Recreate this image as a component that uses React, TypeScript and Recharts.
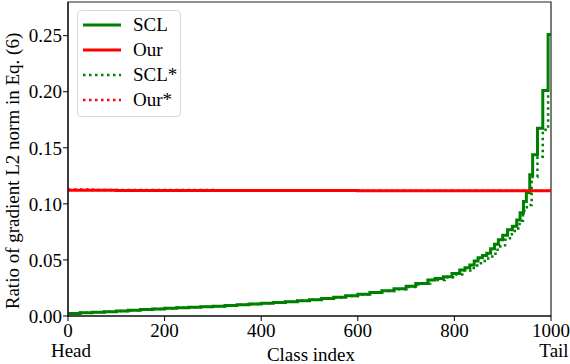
import React from 'react';
import { LineChart, Line, XAxis, YAxis, ReferenceArea } from 'recharts';

// class index breakpoints and ratio values
const sclIdx = [0, 25, 50, 75, 100, 125, 150, 175, 200, 225, 250, 275, 300, 325, 350, 375, 400, 425, 450, 475, 500, 525, 550, 575, 600, 625, 650, 675, 700, 720, 745, 760, 777, 795, 811, 822, 832, 841, 849, 858, 867, 875, 883, 891, 900, 910, 920, 929, 936, 943, 949, 956, 962, 972, 983, 994, 1000];
const sclVal = [0.0022, 0.0028, 0.0034, 0.0039, 0.0045, 0.0051, 0.0057, 0.0062, 0.0068, 0.0073, 0.0078, 0.0083, 0.0088, 0.0094, 0.01, 0.0106, 0.0113, 0.012, 0.0128, 0.0136, 0.0145, 0.0156, 0.0168, 0.018, 0.0195, 0.021, 0.0225, 0.0242, 0.0265, 0.029, 0.032, 0.0335, 0.035, 0.038, 0.041, 0.043, 0.0455, 0.049, 0.052, 0.054, 0.056, 0.06, 0.064, 0.068, 0.072, 0.077, 0.08, 0.0857, 0.092, 0.102, 0.11, 0.126, 0.1437, 0.1675, 0.201, 0.251, 0.251];

const sclStarIdx = [0, 25, 50, 75, 100, 125, 150, 175, 200, 225, 250, 275, 300, 325, 350, 375, 400, 425, 450, 475, 500, 525, 550, 575, 600, 625, 650, 675, 700, 725, 750, 780, 800, 820, 840, 855, 870, 885, 895, 905, 915, 925, 935, 942, 950, 960, 972, 983, 994, 1000];
const sclStarVal = [0.0022, 0.0028, 0.0034, 0.0039, 0.0045, 0.0051, 0.0057, 0.0062, 0.0068, 0.0073, 0.0078, 0.0083, 0.0088, 0.0094, 0.01, 0.0106, 0.0113, 0.012, 0.0128, 0.0136, 0.0145, 0.0155, 0.0166, 0.0178, 0.0192, 0.0207, 0.0222, 0.0238, 0.0258, 0.029, 0.032, 0.0345, 0.037, 0.0405, 0.045, 0.049, 0.053, 0.059, 0.063, 0.068, 0.073, 0.078, 0.085, 0.094, 0.099, 0.124, 0.142, 0.166, 0.198, 0.198];

const ourIdx = [0, 100, 300, 600, 1000];
const ourVal = [0.1122, 0.112, 0.1118, 0.1116, 0.1115];

const ourStarIdx = [0, 50, 300, 600, 1000];
const ourStarVal = [0.1128, 0.1123, 0.1119, 0.1117, 0.1116];

const xTicks = [0, 200, 400, 600, 800, 1000];
const yTicks = [0, 0.05, 0.1, 0.15, 0.2, 0.25];
const endTicks = [0, 1000];
const endNames = ['Head', 'Tail'];

const toPoints = (xs: number[], ys: number[]) => xs.map((x, i) => ({ x, y: ys[i] }));

const series = [
  { name: 'SCL', data: toPoints(sclIdx, sclVal), color: '#008000', dotted: false },
  { name: 'Our', data: toPoints(ourIdx, ourVal), color: '#ff0000', dotted: false },
  { name: 'SCL*', data: toPoints(sclStarIdx, sclStarVal), color: '#008000', dotted: true },
  { name: 'Our*', data: toPoints(ourStarIdx, ourStarVal), color: '#ff0000', dotted: true },
];

const FONT = 'Liberation Serif';

const XTick = (props: any) => {
  const { x, y, payload } = props;
  const k = endTicks.indexOf(payload.value);
  return (
    <g>
      <text x={x} y={y} dy="0.71em" textAnchor="middle" fontSize={19} fontFamily={FONT} fill="#000">
        {payload.value}
      </text>
      {k >= 0 && (
        <text x={x + 3} y={y + 33} textAnchor="middle" fontSize={19} fontFamily={FONT} fill="#000">
          {endNames[k]}
        </text>
      )}
    </g>
  );
};

const App: React.FC = () => {
  return (
    <div style={{ position: 'absolute', left: 0, top: 0, width: 570, height: 364, background: '#fff', fontFamily: FONT }}>
      <LineChart width={570} height={364} margin={{ top: 2, right: 19, left: 8, bottom: 18 }}>
        <XAxis
          dataKey="x"
          type="number"
          domain={[0, 1000]}
          ticks={xTicks}
          allowDataOverflow
          height={30}
          tick={<XTick />}
          tickSize={5}
          tickMargin={3}
          stroke="#000"
          interval={0}
          label={{
            content: () => (
              <text x={311} y={361} textAnchor="middle" fontSize={19} fontFamily={FONT} fill="#000">Class index</text>
            ),
          }}
        />
        <YAxis
          type="number"
          domain={[0, 0.28]}
          ticks={yTicks}
          allowDataOverflow
          width={60}
          tickFormatter={(v: number) => v.toFixed(2)}
          tick={{ fontSize: 19, fontFamily: FONT, fill: '#000' }}
          tickSize={5}
          tickMargin={1}
          stroke="#000"
          interval={0}
          label={{
            content: () => (
              <text x={12} y={171} transform="rotate(-90 12 171)" textAnchor="middle" dominantBaseline="central" fontSize={19} fontFamily={FONT} fill="#000">
                Ratio of gradient L2 norm in Eq. (6)
              </text>
            ),
          }}
        />
        <ReferenceArea x1={0} x2={1000} y1={0} y2={0.28} fill="none" stroke="#222" strokeWidth={1.2} fillOpacity={0} />
        {series.map((s) => (
          <Line
            key={s.name}
            data={s.data}
            dataKey="y"
            name={s.name}
            type="stepAfter"
            stroke={s.color}
            strokeWidth={s.dotted ? 2.5 : 3}
            strokeDasharray={s.dotted ? '2.5 3.5' : undefined}
            dot={false}
            activeDot={false}
            isAnimationActive={false}
          />
        ))}
      </LineChart>
      <div
        style={{
          position: 'absolute', left: 77, top: 10, width: 104, height: 107,
          border: '1px solid #d8d8d8', borderRadius: 4, background: 'rgba(255,255,255,0.8)',
          boxSizing: 'border-box', paddingTop: 1,
        }}
      >
        {series.map((s) => (
          <div key={s.name} style={{ height: 25, display: 'flex', alignItems: 'center' }}>
            <svg width={50} height={10} style={{ marginLeft: 4 }}>
              <line x1={1} y1={5} x2={39} y2={5} stroke={s.color} strokeWidth={s.dotted ? 2.5 : 3} strokeDasharray={s.dotted ? '2.5 3.5' : undefined} />
            </svg>
            <span style={{ fontSize: 19, color: '#000', marginLeft: 1, lineHeight: '25px' }}>{s.name}</span>
          </div>
        ))}
      </div>
    </div>
  );
};

export default App;
